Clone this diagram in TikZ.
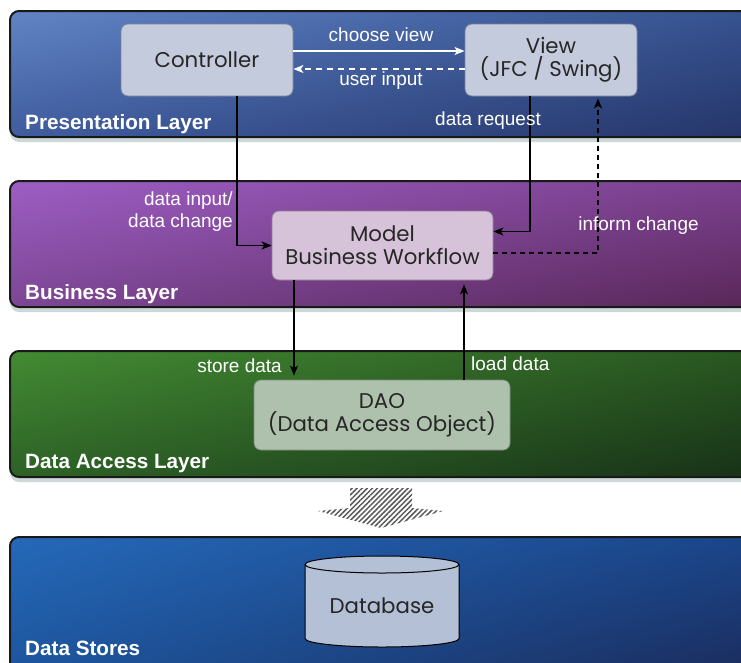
\documentclass[tikz,border=0pt]{standalone}
\usepackage{fontspec}
\setmainfont{Liberation Sans}
\newfontfamily\boxfont{Poppins}
\usetikzlibrary{shadows,shadings,patterns.meta,arrows.meta}
\definecolor{ctrlc}{HTML}{C4CBDD}
\definecolor{ctrld}{HTML}{7C8499}
\definecolor{modelc}{HTML}{D6C3D9}
\definecolor{modeld}{HTML}{8F7F93}
\definecolor{daoc}{HTML}{ADC1AC}
\definecolor{daod}{HTML}{7D8C7C}
\definecolor{dbc}{HTML}{B4C0D6}
\definecolor{shadowc}{HTML}{8FAAA8}
\definecolor{pUL}{HTML}{6184C5}
\definecolor{pUR}{HTML}{34508E}
\definecolor{pLL}{HTML}{3F5C9E}
\definecolor{pLR}{HTML}{243467}
\definecolor{bUL}{HTML}{9D5EC4}
\definecolor{bUR}{HTML}{7A3F8C}
\definecolor{bLL}{HTML}{7C4694}
\definecolor{bLR}{HTML}{582656}
\definecolor{dUL}{HTML}{438B33}
\definecolor{dUR}{HTML}{285520}
\definecolor{dLL}{HTML}{2D6226}
\definecolor{dLR}{HTML}{173017}
\definecolor{sUL}{HTML}{2569B9}
\definecolor{sUR}{HTML}{1A4488}
\definecolor{sLL}{HTML}{1B5198}
\definecolor{sLR}{HTML}{1B2652}
\begin{document}
\begin{tikzpicture}[x=1pt,y=-1pt,
  layer/.style={draw=black!90, line width=2pt, rounded corners=9pt,
    drop shadow={shadow xshift=0pt, shadow yshift=-5pt, opacity=0.45, fill=shadowc}},
  layerlabel/.style={anchor=base west, text=white, inner sep=0pt,
    font=\fontsize{20.7pt}{24pt}\selectfont\bfseries},
  lbl/.style={text=white, inner sep=0pt, font=\fontsize{19pt}{22pt}\selectfont},
  box/.style={rounded corners=7pt, line width=0.8pt, align=center, inner sep=0pt,
    text=black!85, font=\boxfont\fontsize{21.3pt}{23pt}\selectfont},
  arr/.style={-{Stealth[length=10pt,width=8pt,inset=2.5pt]}, line width=1.2pt, black},
  warr/.style={-{Stealth[length=10pt,width=8pt,inset=2.5pt]}, line width=1.6pt, white},
]
\useasboundingbox (0,0) rectangle (741,662);
\fill[white] (0,0) rectangle (741,662);

% layers
\shadedraw[layer, upper left=pUL, upper right=pUR, lower left=pLL, lower right=pLR]
  (10,11) rectangle (775,137);
\shadedraw[layer, upper left=bUL, upper right=bUR, lower left=bLL, lower right=bLR]
  (10,181) rectangle (775,307);
\shadedraw[layer, upper left=dUL, upper right=dUR, lower left=dLL, lower right=dLR]
  (10,351) rectangle (775,477);
\shadedraw[layer, upper left=sUL, upper right=sUR, lower left=sLL, lower right=sLR]
  (10,537) rectangle (775,700);

\node[layerlabel] (lp) at (25,129) {Presentation Layer};
\node[layerlabel] (lb) at (25,299) {Business Layer};
\node[layerlabel] (lda) at (25,468) {Data Access Layer};
\node[layerlabel] (lds) at (25,655) {Data Stores};

% boxes
\node[box, fill=ctrlc, draw=ctrld, minimum width=172pt, minimum height=72pt] (ctrl) at (207,60) {Controller};
\node[box, fill=ctrlc, draw=ctrld, minimum width=172pt, minimum height=72pt] (view) at (551,60) {View\\(JFC / Swing)};
\node[box, fill=modelc, draw=modeld, minimum width=221pt, minimum height=69pt] (model) at (382.5,245.5) {Model\\Business Workflow};
\node[box, fill=daoc, draw=daod, minimum width=256pt, minimum height=70pt] (dao) at (382,415) {DAO\\(Data Access Object)};

% database cylinder
\fill[dbc] (305,564.5) rectangle (459,638.5);
\fill[dbc] (382,638.5) ellipse [x radius=77pt, y radius=8.5pt];
\draw[line width=1pt] (305,564.5) -- (305,638.5) arc[start angle=180, end angle=360, x radius=77pt, y radius=8.5pt] -- (459,564.5);
\draw[line width=1pt, fill=dbc] (382,564.5) ellipse [x radius=77pt, y radius=8.5pt];
\node[text=black!85, font=\boxfont\fontsize{21.3pt}{23pt}\selectfont] (db) at (382,606) {Database};

% hatched arrow
\fill[pattern={Lines[angle=45, distance=3.6pt, line width=1.5pt]}, pattern color=black!65]
  (350,488) -- (412,488) -- (412,508) -- (443,511) -- (381,528) -- (318,511) -- (350,508) -- cycle;

% connectors
\draw[warr] ([yshift=9pt]ctrl.east) -- ([yshift=9pt]view.west);
\draw[warr, dash pattern=on 6pt off 5pt] ([yshift=-9pt]view.west) -- ([yshift=-9pt]ctrl.east);
\draw[arr] ([xshift=30pt]ctrl.south) |- (model.west);
\draw[arr] ([xshift=-21pt]view.south) |- ([yshift=14pt]model.east);
\draw[arr, dash pattern=on 5pt off 4pt, shorten >=2pt] ([yshift=-7.5pt]model.east) -| ([xshift=47pt]view.south);
\coordinate (s1) at ([xshift=-88.5pt]model.south);
\coordinate (l1) at ([xshift=82pt]dao.north);
\draw[arr, shorten >=4pt] (s1) -- (s1 |- dao.north);
\draw[arr, shorten >=4pt] (l1) -- (l1 |- model.south);

% labels
\node[lbl, anchor=base] (lcv) at (381,41) {choose view};
\node[lbl, anchor=base] (lui) at (381,85) {user input};
\node[lbl, anchor=base] (ldr) at (488,125) {data request};
\node[lbl, anchor=base east] (ldi) at (233,205) {data input/};
\node[lbl, anchor=base east] (ldc) at (233,227) {data change};
\node[lbl, anchor=base] (lic) at (638.5,230) {inform change};
\node[lbl, anchor=base east] (lsd) at (282,372) {store data};
\node[lbl, anchor=base west] (lld) at (471,370) {load data};
\end{tikzpicture}
\end{document}
